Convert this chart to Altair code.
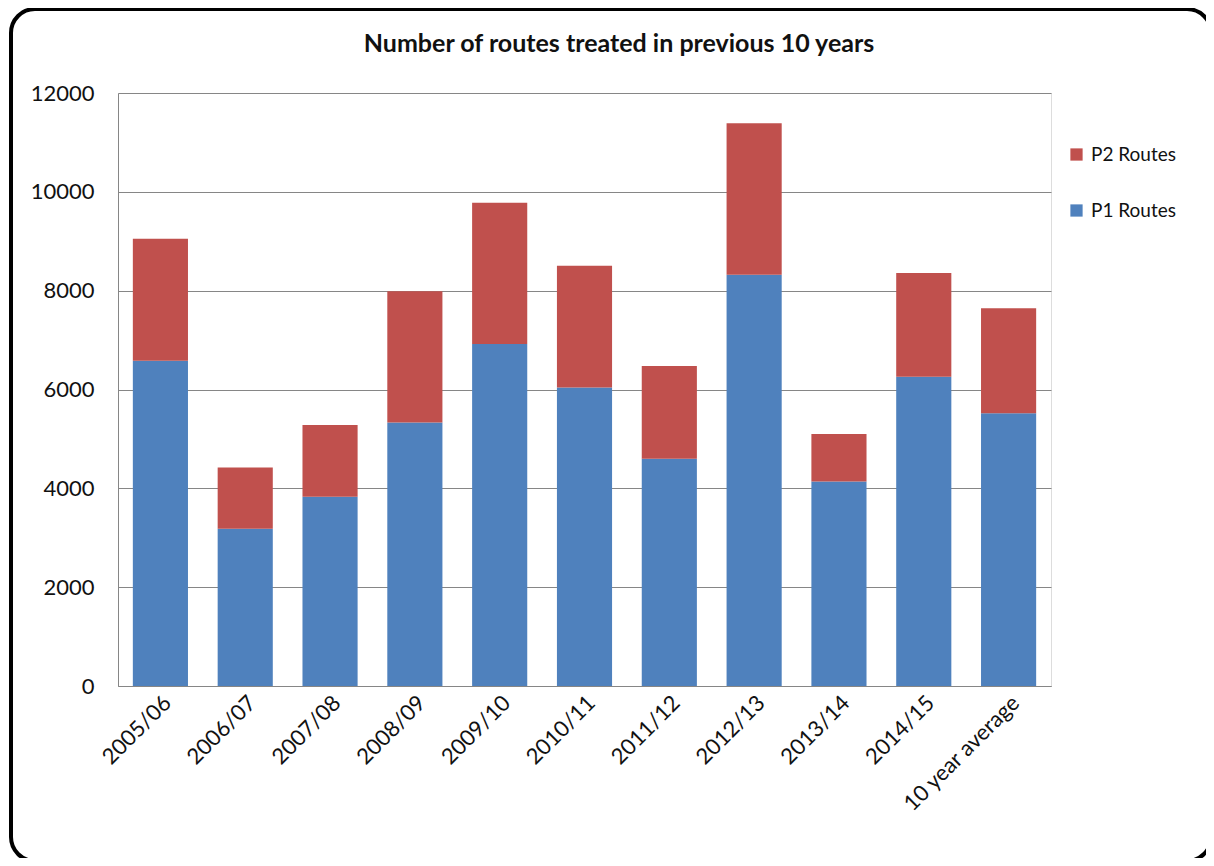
import altair as alt
import pandas as pd

years = ["2005/06", "2006/07", "2007/08", "2008/09", "2009/10", "2010/11",
         "2011/12", "2012/13", "2013/14", "2014/15", "10 year average"]
p1_routes = [6580, 3180, 3830, 5330, 6920, 6040, 4600, 8320, 4140, 6260, 5520]
p2_routes = [2470, 1240, 1450, 2660, 2860, 2465, 1875, 3070, 960, 2095, 2125]
series = ["P2 Routes", "P1 Routes"]
colors = ["#C0504D", "#4F81BD"]
y_ticks = [0, 2000, 4000, 6000, 8000, 10000, 12000]
title_text = "Number of routes treated in previous 10 years"

rows = []
for i, y in enumerate(years):
    rows.append({"year": y, "series": "P1 Routes", "value": p1_routes[i], "ord": 0})
    rows.append({"year": y, "series": "P2 Routes", "value": p2_routes[i], "ord": 1})
df = pd.DataFrame(rows)

FONT = "Lato"

bars = alt.Chart(df).mark_bar().encode(
    x=alt.X("year:N", sort=years, title=None,
            scale=alt.Scale(paddingInner=0.35, paddingOuter=0.175),
            axis=alt.Axis(labelAngle=-45, labelAlign="right", labelBaseline="top",
                          labelFontSize=22, labelFont=FONT, labelColor="#111",
                          labelPadding=6, ticks=False, domainColor="#868686",
                          grid=False, labelLimit=300)),
    y=alt.Y("value:Q", stack="zero", title=None,
            scale=alt.Scale(domain=[0, 12000], nice=False),
            axis=alt.Axis(values=y_ticks, format="d", labelFontSize=22,
                          labelFont=FONT, labelColor="#111", labelPadding=24,
                          ticks=False, domainColor="#868686",
                          gridColor="#868686", gridWidth=1)),
    color=alt.Color("series:N", sort=series,
                    scale=alt.Scale(domain=series, range=colors),
                    legend=alt.Legend(title=None, orient="none", legendX=949,
                                      legendY=52, symbolType="square",
                                      symbolSize=150, labelFontSize=19,
                                      labelFont=FONT, labelColor="#111",
                                      rowPadding=36, symbolStrokeWidth=0,
                                      labelOffset=5)),
    order=alt.Order("ord:Q"),
)

frame = alt.Chart(pd.DataFrame({"a": [0]})).mark_rect(
    fill=None, stroke="black", strokeWidth=4, cornerRadius=24, clip=False
).encode(
    x=alt.value(-107), x2=alt.value(1093),
    y=alt.value(-84), y2=alt.value(768),
)

title = alt.Chart(pd.DataFrame({"t": [title_text]})).mark_text(
    font=FONT, fontSize=25, fontWeight="bold", color="#111",
    align="center", baseline="middle", clip=False
).encode(
    text="t:N", x=alt.value(501), y=alt.value(-49),
)

chart = alt.layer(bars, frame, title).properties(
    width=933, height=593,
    autosize="none",
    padding={"left": 110, "top": 85, "right": 155, "bottom": 172},
).configure_view(stroke=None).configure(background="white")

chart.save("out.html", embed_options={"renderer": "svg", "actions": False})
